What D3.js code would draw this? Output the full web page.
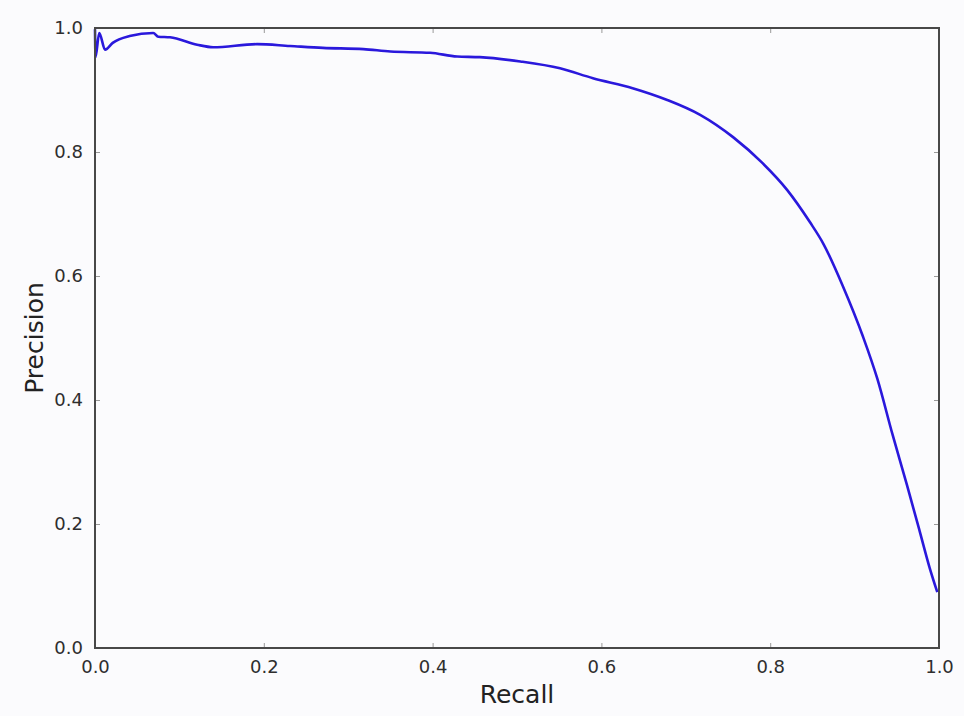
<!DOCTYPE html>
<html>
<head>
<meta charset="utf-8">
<script src="https://cdn.jsdelivr.net/npm/d3@7"></script>
<style>
  body { margin: 0; background: #fbfbfd; }
  text { font-family: "DejaVu Sans", sans-serif; }
</style>
</head>
<body>
<div id="chart"></div>
<script>
// Precision-recall curve
var recall = [0, 0.0006, 0.005, 0.012, 0.021, 0.041, 0.069, 0.075, 0.089, 0.121, 0.140,
    0.192, 0.231, 0.270, 0.318, 0.350, 0.397, 0.429, 0.456, 0.504, 0.551, 0.590,
    0.637, 0.678, 0.717, 0.756, 0.791, 0.820, 0.847, 0.863, 0.886, 0.910, 0.927,
    0.945, 0.962, 0.977, 0.989, 0.998];
var precision = [0.998, 0.953, 0.992, 0.965, 0.976, 0.987, 0.992, 0.986, 0.985, 0.973, 0.969,
    0.974, 0.971, 0.968, 0.966, 0.962, 0.960, 0.954, 0.953, 0.946, 0.935, 0.919,
    0.903, 0.884, 0.860, 0.824, 0.782, 0.739, 0.687, 0.652, 0.584, 0.502, 0.434,
    0.344, 0.263, 0.189, 0.129, 0.090];
var ticks = [0, 0.2, 0.4, 0.6, 0.8, 1.0];

var svgWidth = 964;
var svgHeight = 716;
var margin = { top: 28, right: 25, bottom: 68, left: 95 };
var width = svgWidth - margin.left - margin.right;
var height = svgHeight - margin.top - margin.bottom;

var svg = d3.select("#chart")
    .append("svg")
    .attr("width", svgWidth)
    .attr("height", svgHeight);

svg.append("rect")
    .attr("width", svgWidth)
    .attr("height", svgHeight)
    .attr("fill", "#fbfbfd");

var chartGroup = svg.append("g")
    .attr("transform", `translate(${margin.left}, ${margin.top})`);

var x = d3.scaleLinear().domain([0, 1]).range([0, width]);
var y = d3.scaleLinear().domain([0, 1]).range([height, 0]);

// Axes: ticks point inwards, on all four sides
function styleAxis(g) {
    g.select(".domain").remove();
    g.selectAll(".tick line").attr("stroke", "#999").attr("stroke-width", 1);
    g.selectAll(".tick text")
        .attr("fill", "#2e2e2e")
        .attr("font-size", "18px")
        .attr("font-family", "DejaVu Sans, sans-serif");
}

chartGroup.append("g")
    .attr("transform", `translate(0, ${height})`)
    .call(d3.axisBottom(x).tickValues(ticks).tickFormat(d3.format(".1f"))
        .tickSizeInner(-5).tickSizeOuter(0).tickPadding(12))
    .call(styleAxis);

chartGroup.append("g")
    .call(d3.axisTop(x).tickValues(ticks).tickFormat("")
        .tickSizeInner(-5).tickSizeOuter(0))
    .call(styleAxis);

chartGroup.append("g")
    .call(d3.axisLeft(y).tickValues(ticks).tickFormat(d3.format(".1f"))
        .tickSizeInner(-5).tickSizeOuter(0).tickPadding(12))
    .call(styleAxis);

chartGroup.append("g")
    .attr("transform", `translate(${width}, 0)`)
    .call(d3.axisRight(y).tickValues(ticks).tickFormat("")
        .tickSizeInner(-5).tickSizeOuter(0))
    .call(styleAxis);

// Curve
var points = recall.map((r, i) => [r, precision[i]]);
var line = d3.line()
    .x(d => x(d[0]))
    .y(d => y(d[1]))
    .curve(d3.curveMonotoneX);

chartGroup.append("path")
    .datum(points)
    .attr("fill", "none")
    .attr("stroke", "#2a18dc")
    .attr("stroke-width", 2.6)
    .attr("stroke-linejoin", "round")
    .attr("d", line);

// Frame
chartGroup.append("rect")
    .attr("width", width)
    .attr("height", height)
    .attr("fill", "none")
    .attr("stroke", "#484848")
    .attr("stroke-width", 2);

// Axis labels
chartGroup.append("text")
    .attr("transform", "rotate(-90)")
    .attr("x", -height / 2)
    .attr("y", -52)
    .attr("text-anchor", "middle")
    .attr("font-size", "25px")
    .attr("fill", "#222")
    .text("Precision");

chartGroup.append("text")
    .attr("x", width / 2)
    .attr("y", height + 55)
    .attr("text-anchor", "middle")
    .attr("font-size", "25px")
    .attr("fill", "#222")
    .text("Recall");
</script>
</body>
</html>
